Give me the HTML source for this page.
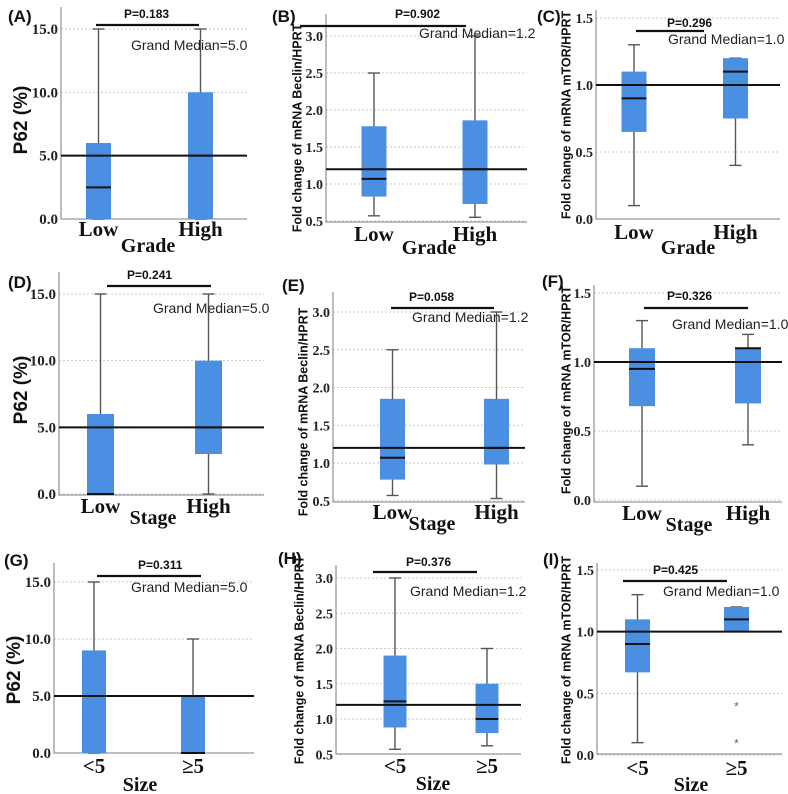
<!DOCTYPE html>
<html><head><meta charset="utf-8"><style>
html,body{margin:0;padding:0;background:#fff;}
svg{display:block;}
</style></head><body>
<svg id="fig" width="788" height="794" viewBox="0 0 788 794" xmlns="http://www.w3.org/2000/svg"></svg>
<script>
// ---- data (per panel A..I) ----
const panelLabels = ['(A)','(B)','(C)','(D)','(E)','(F)','(G)','(H)','(I)'];
const groupNames = ['Grade','Grade','Grade','Stage','Stage','Stage','Size','Size','Size'];
const categoriesGrade = ['Low','High'];
const categoriesSize = ['<5','\u22655'];
const whiskerMin = [[0,0],[0.57,0.55],[0.1,0.4],[0,0],[0.57,0.53],[0.1,0.4],[0,0],[0.57,0.62],[0.1,1.0]];
const q1Values = [[0,0],[0.83,0.73],[0.65,0.75],[0,3],[0.78,0.98],[0.68,0.7],[0,0],[0.88,0.8],[0.67,1.0]];
const medianValues = [[2.5,5],[1.07,1.2],[0.9,1.1],[0,5],[1.07,1.2],[0.95,1.1],[5,0],[1.25,1.0],[0.9,1.1]];
const q3Values = [[6,10],[1.78,1.86],[1.1,1.2],[6,10],[1.85,1.85],[1.1,1.1],[9,5],[1.9,1.5],[1.1,1.2]];
const whiskerMax = [[15,15],[2.5,3.0],[1.3,1.2],[15,15],[2.5,3.0],[1.3,1.2],[15,10],[3.0,2.0],[1.3,1.2]];
const outlierValues = [[[],[]],[[],[]],[[],[]],[[],[]],[[],[]],[[],[]],[[],[]],[[],[]],[[],[0.4,0.1]]];
const grandMedians = [5.0,1.2,1.0,5.0,1.2,1.0,5.0,1.2,1.0];
const pValues = ['0.183','0.902','0.296','0.241','0.058','0.326','0.311','0.376','0.425'];
const ticksP62 = [0,5,10,15];
const ticksBeclin = [0.5,1.0,1.5,2.0,2.5,3.0];
const ticksMtor = [0,0.5,1.0,1.5];
const yTitles = ['P62 (%)','Fold change of mRNA Beclin/HPRT','Fold change of mRNA mTOR/HPRT'];

// ---- layout (pixels) ----
const frames = [
 {l:61,r:247,b:219,t:7,v0:0,p0:219,v1:15,p1:29,cx:[98.5,200.5],bw:25,yt:[22,120],lab:[8,22],pb:[96,199,25],pt:[124,18],gm:[131,50],xl:236,gl:[148,252]},
 {l:326,r:527,b:222,t:14,v0:1,p0:184,v1:3,p1:36,cx:[374,475],bw:25,yt:[298,128],lab:[272,22],pb:[300,466,26],pt:[395,18],gm:[419,38],xl:241,gl:[429,254]},
 {l:596,r:780,b:219,t:10,v0:0,p0:219,v1:1.5,p1:18,cx:[634,735.5],bw:25,yt:[567,115],lab:[537,22],pb:[636,704,31],pt:[667,27],gm:[668,44],xl:239,gl:[688,254]},
 {l:59,r:264,b:495,t:272,v0:0,p0:494,v1:15,p1:294,cx:[100.5,208.5],bw:27,yt:[22,390],lab:[8,288],pb:[107,211,286],pt:[127,279],gm:[153,313],xl:513,gl:[153,524]},
 {l:333,r:525,b:502,t:292,v0:1,p0:463,v1:3,p1:312,cx:[392.5,496.5],bw:25,yt:[304,412],lab:[282,291],pb:[391,494,308],pt:[409,301],gm:[412,322],xl:519,gl:[432,530]},
 {l:594,r:782,b:502,t:285,v0:0,p0:500,v1:1.5,p1:293,cx:[642,748],bw:26,yt:[567,390],lab:[542,287],pb:[644,748,308],pt:[667,300],gm:[672,329],xl:520,gl:[689,531]},
 {l:54,r:254,b:753,t:563,v0:0,p0:753,v1:15,p1:582,cx:[94,193],bw:24,yt:[15,670],lab:[4,566],pb:[97,201,576],pt:[138,569],gm:[131,592],xl:773,gl:[140,791]},
 {l:336,r:521,b:754,t:565,v0:1,p0:719,v1:3,p1:578,cx:[395,487],bw:23,yt:[300,660],lab:[278,564],pb:[373,477,572],pt:[406,566],gm:[410,596],xl:773,gl:[433,790]},
 {l:597,r:782,b:754,t:563,v0:0,p0:755,v1:1.5,p1:570,cx:[637.5,736.5],bw:25,yt:[567,660],lab:[543,565],pb:[623,727,581],pt:[653,574],gm:[663,596],xl:775,gl:[691,791]}
];
const BOX = '#4a8fe2';
const svg = document.getElementById('fig');
const NS = 'http://www.w3.org/2000/svg';
function mk(tag, attrs, parent, text){
  const e = document.createElementNS(NS, tag);
  for (const k in attrs) e.setAttribute(k, attrs[k]);
  if (text !== undefined) e.textContent = text;
  parent.appendChild(e);
  return e;
}
for (let i=0;i<9;i++){
  const f = frames[i];
  const col = i%3;
  const ticks = col===0?ticksP62:(col===1?ticksBeclin:ticksMtor);
  const cats = i>=6?categoriesSize:categoriesGrade;
  const y = v => f.p0 + (v - f.v0)*(f.p1 - f.p0)/(f.v1 - f.v0);
  const g = mk('g',{},svg);
  
  
  ticks.forEach(tv=>{
    const gl = mk('line',{x1:f.l,x2:f.r,y1:y(tv),y2:y(tv),stroke:'#c8c8c8','stroke-width':1,'stroke-dasharray':'2,2'},g);
    
    
    const tl = mk('text',{x:f.l-3,y:y(tv)+5,'text-anchor':'end','font-family':'Liberation Serif, serif','font-weight':'bold','font-size':col===0?15:14,fill:'#222'},g,tv.toFixed(1));
    
    
  });
  const ax = mk('path',{d:`M${f.l},${f.t} L${f.l},${f.b} L${f.r},${f.b}`,fill:'none',stroke:'#999','stroke-width':1.3},g);
  
  
  for (let k=0;k<2;k++){
    const cx = f.cx[k], hw=f.bw/2;
    const wl = mk('line',{x1:cx,x2:cx,y1:y(whiskerMin[i][k]),y2:y(whiskerMax[i][k]),stroke:'#555','stroke-width':1.4},g);
    
    
    [whiskerMin[i][k],whiskerMax[i][k]].forEach(v=>{
      const c = mk('line',{x1:cx-6,x2:cx+6,y1:y(v),y2:y(v),stroke:'#555','stroke-width':1.4},g);
      
      
    });
    const yq3=y(q3Values[i][k]), yq1=y(q1Values[i][k]);
    const bx = mk('rect',{x:cx-hw,y:yq3,width:f.bw,height:Math.max(0,yq1-yq3),fill:BOX},g);
    
    
    const md = mk('line',{x1:cx-hw,x2:cx+hw,y1:y(medianValues[i][k]),y2:y(medianValues[i][k]),stroke:'#111','stroke-width':2},g);
    
    
    outlierValues[i][k].forEach(v=>{
      const o = mk('text',{x:cx,y:y(v)+5,'text-anchor':'middle','font-family':'Liberation Sans, sans-serif','font-size':12,fill:'#666'},g,'*');
      
      
    });
    const xt = mk('text',{x:cx,y:f.xl,'text-anchor':'middle','font-family':'Liberation Serif, serif','font-weight':'bold','font-size':21,fill:'#111'},g,cats[k]);
    
    
  }
  const gmL = mk('line',{x1:f.l,x2:f.r,y1:y(grandMedians[i]),y2:y(grandMedians[i]),stroke:'#111','stroke-width':2},g);
  
  
  const gmT = mk('text',{x:f.gm[0],y:f.gm[1],'font-family':'Liberation Sans, sans-serif','font-size':14,fill:'#222'},g,'Grand Median='+grandMedians[i].toFixed(1));
  
  
  const pb = mk('line',{x1:f.pb[0],x2:f.pb[1],y1:f.pb[2],y2:f.pb[2],stroke:'#111','stroke-width':2.2},g);
  
  
  const pt = mk('text',{x:f.pt[0],y:f.pt[1],'font-family':'Liberation Sans, sans-serif','font-weight':'bold','font-size':12,fill:'#111'},g,'P='+pValues[i]);
  
  
  const isP62 = col===0;
  const yt = mk('text',{x:f.yt[0],y:f.yt[1],'text-anchor':'middle','dominant-baseline':'middle',transform:`rotate(-90 ${f.yt[0]} ${f.yt[1]})`,'font-family':'Liberation Sans, sans-serif','font-weight':'bold','font-size':isP62?19:12.5,fill:'#111'},g,yTitles[col]);
  
  
  const xg = mk('text',{x:f.gl[0],y:f.gl[1],'text-anchor':'middle','font-family':'Liberation Serif, serif','font-weight':'bold','font-size':20,fill:'#111'},g,groupNames[i]);
  
  
  const pl = mk('text',{x:f.lab[0],y:f.lab[1],'font-family':'Liberation Sans, sans-serif','font-weight':'bold','font-size':17,fill:'#111'},g,panelLabels[i]);
  
  
}
</script>
</body></html>
